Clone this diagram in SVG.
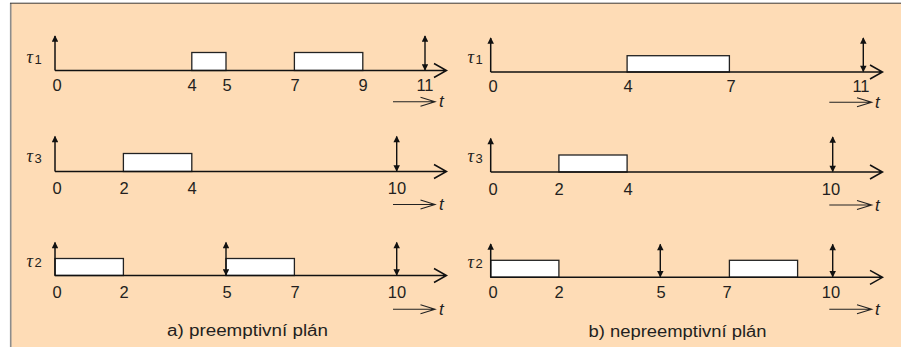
<svg xmlns="http://www.w3.org/2000/svg" width="901" height="347" viewBox="0 0 901 347">
<style>
.ax{stroke:#111;stroke-width:1.5;fill:none}
.sm{stroke:#222;stroke-width:1.1;fill:none}
.job{fill:#fff;stroke:#222;stroke-width:1.3}
.dl{stroke:#111;stroke-width:1.4;marker-start:url(#h);marker-end:url(#h)}
.ya{stroke:#111;stroke-width:1.5;marker-end:url(#h)}
.n{font-family:"Liberation Sans",Arial,sans-serif;font-size:16.5px;fill:#231f20;text-anchor:middle}
.tau{font-family:"Liberation Serif","Times New Roman",serif;font-style:italic;font-size:18px;fill:#231f20}
.sub{font-family:"Liberation Sans",Arial,sans-serif;font-size:13px;fill:#231f20}
.t{font-family:"Liberation Sans",Arial,sans-serif;font-style:italic;font-size:17px;fill:#231f20}
.cap{font-family:"Liberation Sans",Arial,sans-serif;font-size:16px;fill:#231f20;text-anchor:middle}
</style>
<defs>
<marker id="h" viewBox="0 0 10 10" refX="9" refY="5" markerWidth="8" markerHeight="6.5" markerUnits="userSpaceOnUse" orient="auto-start-reverse">
<path d="M0,0 L10,5 L0,10 z" fill="#111"/>
</marker>
</defs>
<rect x="0" y="0" width="901" height="347" fill="#fff"/>
<rect x="11" y="3" width="890" height="344" fill="#fedcb6"/>
<line x1="10.7" y1="3" x2="10.7" y2="347" stroke="#8c8c8c" stroke-width="1.6"/>
<line x1="10" y1="3.2" x2="901" y2="3.2" stroke="#3a3a3a" stroke-width="1"/>

<!-- a) preemptive -->
<g id="a-tau1">
<rect class="job" x="191.8" y="52.5" width="34.2" height="18"/>
<rect class="job" x="294.4" y="52.5" width="68.4" height="18"/>
<line class="ya" x1="55" y1="70.5" x2="55" y2="36"/>
<path class="ax" d="M55,70.5 H446.5 M434,63.5 L446.5,70.5 L434,77.5"/>
<line class="dl" x1="425" y1="70" x2="425" y2="36"/>
<text class="tau" x="26.5" y="63">τ</text><text class="sub" x="34.5" y="63.5">1</text>
<text class="n" x="57" y="90.5">0</text><text class="n" x="192" y="90.5">4</text><text class="n" x="227" y="90.5">5</text><text class="n" x="295" y="90.5">7</text><text class="n" x="363" y="90.5">9</text><text class="n" x="425" y="90.5">11</text>
<path class="sm" d="M393,101.7 H435 M420.5,97.2 L435,101.7 L420.5,106.2"/>
<text class="t" x="439" y="107">t</text>
</g>
<g id="a-tau3">
<rect class="job" x="123.4" y="153.5" width="68.4" height="18"/>
<line class="ya" x1="55" y1="171.5" x2="55" y2="136.5"/>
<path class="ax" d="M55,171.5 H446.5 M434,164.5 L446.5,171.5 L434,178.5"/>
<line class="dl" x1="396.7" y1="171" x2="396.7" y2="136.5"/>
<text class="tau" x="26.5" y="162">τ</text><text class="sub" x="34.5" y="162.5">3</text>
<text class="n" x="57" y="194">0</text><text class="n" x="124" y="194">2</text><text class="n" x="192" y="194">4</text><text class="n" x="397" y="194">10</text>
<path class="sm" d="M393,204.5 H435 M420.5,200 L435,204.5 L420.5,209"/>
<text class="t" x="439" y="210">t</text>
</g>
<g id="a-tau2">
<rect class="job" x="55" y="258.5" width="68.4" height="17"/>
<rect class="job" x="226" y="258.5" width="68.4" height="17"/>
<line class="ya" x1="55" y1="275.5" x2="55" y2="242.5"/>
<path class="ax" d="M55,275.5 H446.5 M434,268.5 L446.5,275.5 L434,282.5"/>
<line class="dl" x1="226" y1="275" x2="226" y2="242.5"/>
<line class="dl" x1="396.7" y1="275" x2="396.7" y2="242.5"/>
<text class="tau" x="26.5" y="266.5">τ</text><text class="sub" x="34.5" y="267">2</text>
<text class="n" x="57" y="297.5">0</text><text class="n" x="124" y="297.5">2</text><text class="n" x="227" y="297.5">5</text><text class="n" x="295" y="297.5">7</text><text class="n" x="397" y="297.5">10</text>
<path class="sm" d="M393,309.3 H435 M420.5,304.8 L435,309.3 L420.5,313.8"/>
<text class="t" x="439" y="315">t</text>
</g>
<text id="cap-a" class="cap" x="247.5" y="336" textLength="161" lengthAdjust="spacingAndGlyphs">a) preemptivní plán</text>

<!-- b) non-preemptive -->
<g id="b-tau1">
<rect class="job" x="627.1" y="55.7" width="102.3" height="16.3"/>
<line class="ya" x1="490.7" y1="72" x2="490.7" y2="38"/>
<path class="ax" d="M490.7,72 H882.5 M870,65 L882.5,72 L870,79"/>
<line class="dl" x1="863.3" y1="71.5" x2="863.3" y2="38"/>
<text class="tau" x="467.5" y="63.3">τ</text><text class="sub" x="475.5" y="63.8">1</text>
<text class="n" x="493" y="92">0</text><text class="n" x="628" y="92">4</text><text class="n" x="731" y="92">7</text><text class="n" x="861" y="92">11</text>
<path class="sm" d="M829.3,102.3 H871.7 M857,97.8 L871.7,102.3 L857,106.8"/>
<text class="t" x="875" y="108">t</text>
</g>
<g id="b-tau3">
<rect class="job" x="558.9" y="155" width="68.2" height="17"/>
<line class="ya" x1="490.7" y1="172" x2="490.7" y2="138.5"/>
<path class="ax" d="M490.7,172 H882.5 M870,165 L882.5,172 L870,179"/>
<line class="dl" x1="832.7" y1="171.5" x2="832.7" y2="137"/>
<text class="tau" x="467.5" y="162">τ</text><text class="sub" x="475.5" y="162.5">3</text>
<text class="n" x="493" y="194.5">0</text><text class="n" x="559" y="194.5">2</text><text class="n" x="628" y="194.5">4</text><text class="n" x="831" y="194.5">10</text>
<path class="sm" d="M829.3,205 H871.7 M857,200.5 L871.7,205 L857,209.5"/>
<text class="t" x="875" y="210.5">t</text>
</g>
<g id="b-tau2">
<rect class="job" x="490.7" y="260.3" width="68.2" height="17"/>
<rect class="job" x="729.4" y="260.3" width="68.2" height="17"/>
<line class="ya" x1="490.7" y1="277.3" x2="490.7" y2="244"/>
<path class="ax" d="M490.7,277.3 H882.5 M870,270.3 L882.5,277.3 L870,284.3"/>
<line class="dl" x1="660.3" y1="276.8" x2="660.3" y2="244.3"/>
<line class="dl" x1="832.7" y1="276.8" x2="832.7" y2="244.3"/>
<text class="tau" x="467.5" y="267.5">τ</text><text class="sub" x="475.5" y="268">2</text>
<text class="n" x="493" y="298">0</text><text class="n" x="559" y="298">2</text><text class="n" x="661" y="298">5</text><text class="n" x="727" y="298">7</text><text class="n" x="831" y="298">10</text>
<path class="sm" d="M829.3,309.3 H871.7 M857,304.8 L871.7,309.3 L857,313.8"/>
<text class="t" x="875" y="315">t</text>
</g>
<text id="cap-b" class="cap" x="677.5" y="337" textLength="178" lengthAdjust="spacingAndGlyphs">b) nepreemptivní plán</text>
</svg>
